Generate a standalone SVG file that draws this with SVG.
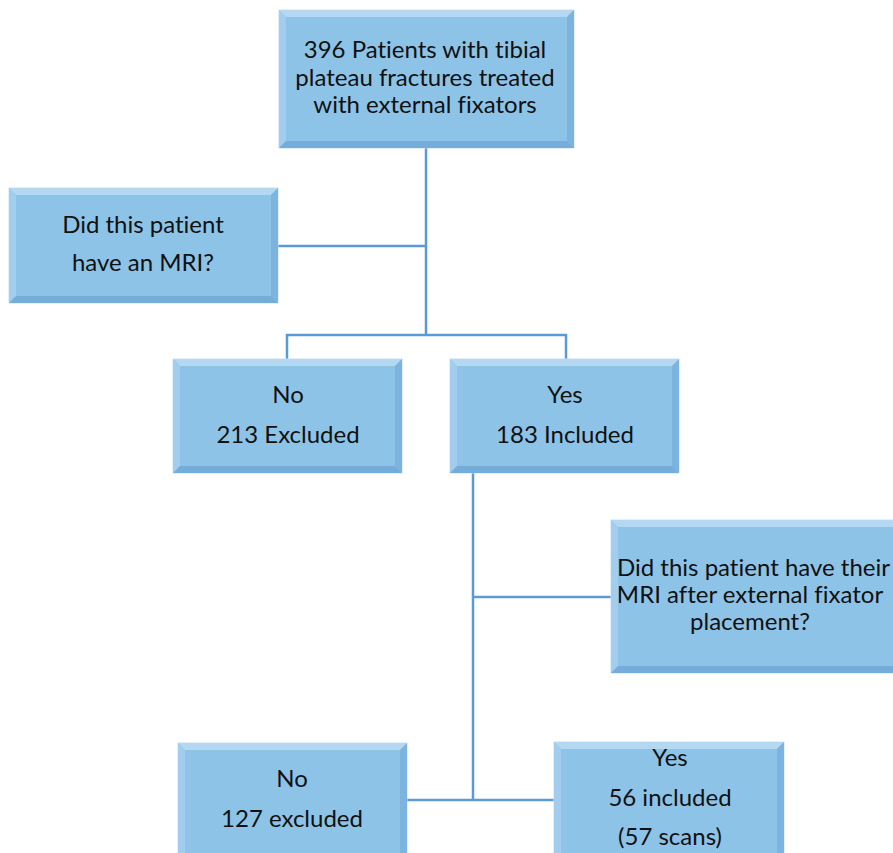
<svg xmlns="http://www.w3.org/2000/svg" width="893" height="853" viewBox="0 0 893 853">
<style>
.base{fill:#8EC3E8;stroke:#C9E2F5;stroke-width:1}
.bt{fill:#B4D8F2}
.bl{fill:#A2CDEE}
.br{fill:#7DB4DF}
.bb{fill:#75ADDA}
.conn{stroke:#5B9BD5;stroke-width:2.5;fill:none}
text{font-family:Lato,"Liberation Sans",sans-serif;font-size:24px;fill:#111;text-anchor:middle;font-variant-ligatures:none}
text.s{text-anchor:start}
</style>
<rect width="893" height="853" fill="#fff"/>
<g id="connectors">
<path class="conn" d="M426,148V335M278,246H426M287,359V335H566V359M473,473V800M473,597H611M407,800H554"/>
</g>
<g id="n1">
<rect class="base" x="279" y="10" width="295" height="138"/>
<polygon class="bt" points="279,10 574,10 567,17 286,17"/>
<polygon class="bl" points="279,10 286,17 286,141 279,148"/>
<polygon class="br" points="574,10 574,148 567,141 567,17"/>
<polygon class="bb" points="279,148 574,148 567,141 286,141"/>
<text x="425" y="58">396 Patients with  tibial</text>
<text x="425" y="85.5">plateau  fractures treated</text>
<text x="425" y="113">with external fixators</text>
</g>
<g id="n2">
<rect class="base" x="9" y="188" width="269" height="115"/>
<polygon class="bt" points="9,188 278,188 271,195 16,195"/>
<polygon class="bl" points="9,188 16,195 16,296 9,303"/>
<polygon class="br" points="278,188 278,303 271,296 271,195"/>
<polygon class="bb" points="9,303 278,303 271,296 16,296"/>
<text x="143" y="233">Did this patient</text>
<text x="143" y="271">have an MRI?</text>
</g>
<g id="n3">
<rect class="base" x="173" y="359" width="229" height="114"/>
<polygon class="bt" points="173,359 402,359 395,366 180,366"/>
<polygon class="bl" points="173,359 180,366 180,466 173,473"/>
<polygon class="br" points="402,359 402,473 395,466 395,366"/>
<polygon class="bb" points="173,473 402,473 395,466 180,466"/>
<text x="288" y="403">No</text>
<text x="288" y="443">213 Excluded</text>
</g>
<g id="n4">
<rect class="base" x="450" y="359" width="229" height="114"/>
<polygon class="bt" points="450,359 679,359 672,366 457,366"/>
<polygon class="bl" points="450,359 457,366 457,466 450,473"/>
<polygon class="br" points="679,359 679,473 672,466 672,366"/>
<polygon class="bb" points="450,473 679,473 672,466 457,466"/>
<text x="565" y="403">Yes</text>
<text x="565" y="443">183  Included</text>
</g>
<g id="n5">
<rect class="base" x="611" y="520" width="310" height="153"/>
<polygon class="bt" points="611,520 921,520 914,527 618,527"/>
<polygon class="bl" points="611,520 618,527 618,666 611,673"/>
<polygon class="bb" points="611,673 921,673 914,666 618,666"/>
<text class="s" x="617" y="576">Did this patient have their</text>
<text x="750" y="603">MRI after external fixator</text>
<text x="750" y="630">placement?</text>
</g>
<g id="n6">
<rect class="base" x="178" y="743" width="229" height="125"/>
<polygon class="bt" points="178,743 407,743 400,750 185,750"/>
<polygon class="bl" points="178,743 185,750 185,868 178,868"/>
<polygon class="br" points="407,743 407,868 400,868 400,750"/>
<text x="292" y="787">No</text>
<text x="292" y="827">127 excluded</text>
</g>
<g id="n7">
<rect class="base" x="554" y="742" width="230" height="125"/>
<polygon class="bt" points="554,742 784,742 777,749 561,749"/>
<polygon class="bl" points="554,742 561,749 561,867 554,867"/>
<polygon class="br" points="784,742 784,867 777,867 777,749"/>
<text x="670" y="766">Yes</text>
<text x="670" y="806">56 included</text>
<text x="670" y="845">(57 scans)</text>
</g>
</svg>
